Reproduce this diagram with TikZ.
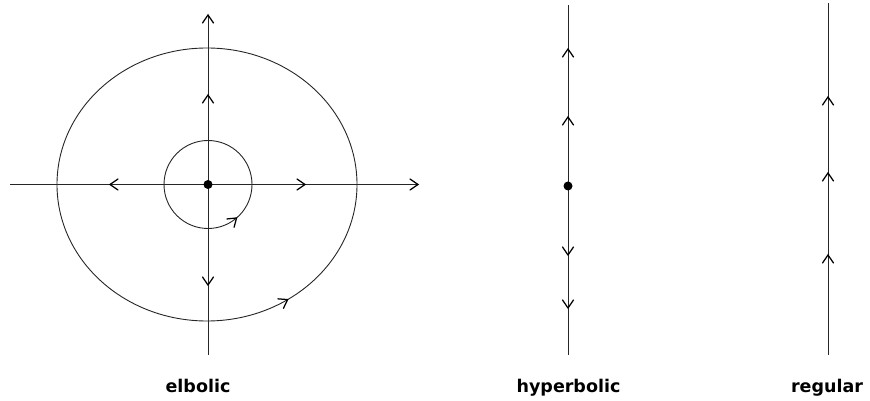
\documentclass[tikz,border=0pt]{standalone}
\usepackage{fontspec}
\usetikzlibrary{calc}
\newfontfamily\labelfont{DejaVu Sans}
\begin{document}
\begin{tikzpicture}[x=1pt,y=1pt,line width=1pt,
  flow/.style={draw=black!85,line width=0.9pt},
  vhead/.pic={\draw[draw=black,line width=1.25pt,line cap=round,line join=miter] (-8,-5.5) -- (0,0) -- (-8,5.5);},
  lbl/.style={font=\labelfont\bfseries\fontsize{17.5}{20}\selectfont,anchor=base,inner sep=0pt}]
\useasboundingbox (0,0) rectangle (870,401);
% ---- elliptic (left) ----
\coordinate (c) at (208,216.5);
\coordinate (hl) at (10,216.5);
\coordinate (hr) at (418,216.5);
\coordinate (vb) at (208,46);
\coordinate (vt) at (208,386);
\draw[flow] (207,216.5) ellipse [x radius=150,y radius=136.5];
\draw[flow] (c) circle (44);
\draw[flow] (hl) -- (hr);
\draw[flow] (vb) -- (vt);
\pic[rotate=0] at (hr) {vhead};
\pic[rotate=90] at (vt) {vhead};
\pic[rotate=90] at (208,306) {vhead};
\pic[rotate=-90] at (208,116) {vhead};
\pic[rotate=180] at (110,216.5) {vhead};
\pic[rotate=0] at (305,216.5) {vhead};
\pic[rotate=40.5] at ($(c)+(-49.5:44)$) {vhead};
\pic[rotate=30] at (287.6,101.4) {vhead};
\fill (c) circle (4.5);
\node[lbl] (l1) at (198,8) {elbolic};
% ---- hyperbolic (middle) ----
\coordinate (mb) at (568,46);
\coordinate (mt) at (568,396);
\coordinate (md) at (568,215);
\draw[flow] (mb) -- (mt);
\pic[rotate=90] at (568,352) {vhead};
\pic[rotate=90] at (568,284) {vhead};
\pic[rotate=-90] at (568,146) {vhead};
\pic[rotate=-90] at (568,93) {vhead};
\fill (md) circle (4.5);
\node[lbl] (l2) at (568.5,8) {hyperbolic};
% ---- regular (right) ----
\coordinate (rb) at (828,46);
\coordinate (rt) at (828,398);
\draw[flow] (rb) -- (rt);
\pic[rotate=90] at (828,304) {vhead};
\pic[rotate=90] at (828,228) {vhead};
\pic[rotate=90] at (828,146) {vhead};
\node[lbl] (l3) at (827,8) {regular};
\end{tikzpicture}
\end{document}
